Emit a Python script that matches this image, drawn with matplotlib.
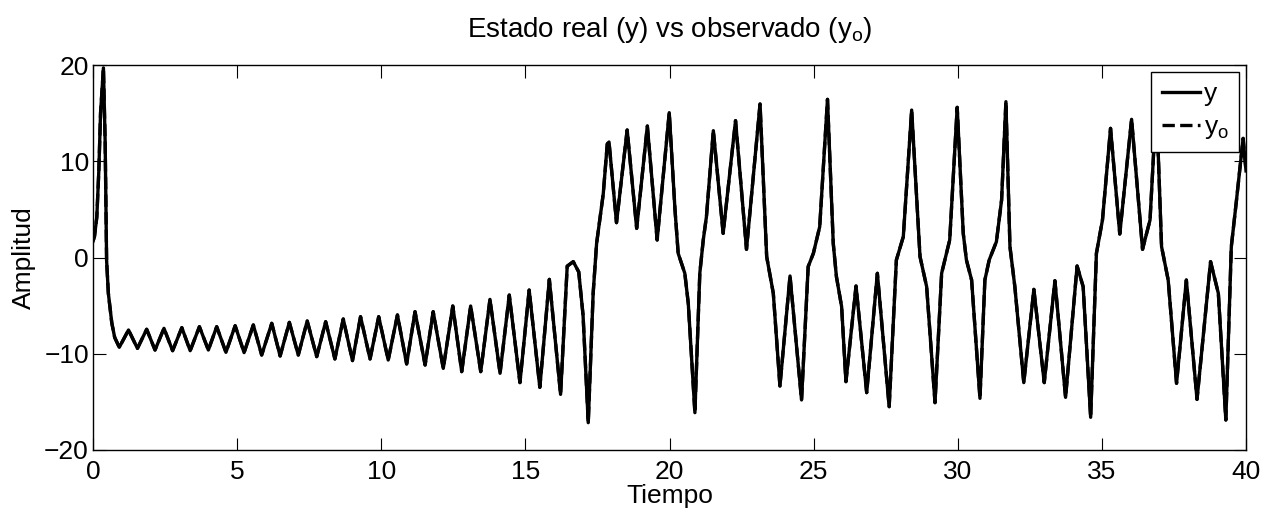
import numpy as np
import matplotlib.pyplot as plt

plt.rcParams["font.family"] = ["Liberation Sans", "DejaVu Sans"]

# puntos (tiempo, amplitud)
t_inicio = [0.0, 0.05, 0.13, 0.2, 0.26, 0.36, 0.42, 0.47, 0.53, 0.65, 0.75]
y_inicio = [1.7, 2.2, 4.2, 9.0, 15.0, 19.7, 12.0, -0.3, -3.7, -6.8, -8.3]

t_valles = [0.91, 1.54, 2.15, 2.76, 3.37, 4.0, 4.61, 5.24, 5.85, 6.49, 7.12,
            7.76, 8.39, 9.0, 9.61, 10.24, 10.88, 11.52, 12.15, 12.79, 13.45,
            14.12, 14.81, 15.5, 16.22]
y_valles = [-9.33, -9.44, -9.61, -9.68, -9.68, -9.61, -9.85, -9.88, -10.13,
            -10.23, -10.13, -10.3, -10.54, -10.71, -10.54, -10.65, -11.06,
            -11.17, -11.52, -11.86, -11.86, -12.03, -13.0, -13.49, -14.22]
t_picos = [1.23, 1.86, 2.46, 3.08, 3.69, 4.29, 4.93, 5.56, 6.2, 6.81, 7.43,
           8.07, 8.68, 9.28, 9.91, 10.56, 11.17, 11.8, 12.48, 13.1, 13.77,
           14.44, 15.13, 15.83]
y_picos = [-7.53, -7.46, -7.36, -7.29, -7.19, -7.19, -7.09, -7.01, -6.84,
           -6.74, -6.6, -6.67, -6.39, -6.15, -6.15, -5.97, -5.63, -5.63,
           -5.04, -5.04, -4.35, -3.9, -3.38, -2.27]

t_final = [16.45, 16.66, 16.85, 17.0, 17.18, 17.35, 17.47, 17.58, 17.7, 17.84,
           17.9, 18.16, 18.53, 18.86, 19.23, 19.57, 19.99, 20.19, 20.3, 20.53,
           20.65, 20.88, 21.05, 21.17, 21.28, 21.52, 21.86, 22.29, 22.67,
           23.14, 23.37, 23.6, 23.83, 24.18, 24.58, 24.81, 24.99, 25.21,
           25.48, 25.68, 25.79, 25.97, 26.12, 26.47, 26.84, 27.21, 27.62,
           27.87, 28.11, 28.4, 28.69, 28.92, 29.21, 29.44, 29.72, 29.98,
           30.19, 30.3, 30.48, 30.77, 30.94, 31.09, 31.34, 31.52, 31.67,
           31.81, 31.98, 32.29, 32.64, 33.0, 33.37, 33.74, 34.14, 34.35,
           34.61, 34.81, 35.02, 35.3, 35.62, 36.03, 36.41, 36.67, 36.89,
           37.07, 37.3, 37.59, 37.93, 38.3, 38.77, 39.04, 39.3, 39.49, 39.67,
           39.9, 40.0]
y_final = [-0.9, -0.43, -1.5, -6.0, -17.16, -3.72, 1.47, 3.9, 6.6, 11.8,
           12.0, 3.62, 13.25, 3.03, 13.66, 1.82, 15.05, 4.94, 0.43, -1.64,
           -4.76, -16.12, -1.64, 1.82, 4.24, 13.18, 2.51, 14.22, 0.85, 15.95,
           0.09, -3.72, -13.35, -1.92, -14.8, -0.95, 0.43, 3.2, 16.43, 1.47,
           -1.99, -5.1, -12.9, -2.96, -14.04, -1.64, -15.5, -0.26, 2.16,
           15.32, 0.09, -3.03, -15.08, -1.64, 1.82, 15.6, 2.51, -0.26, -2.34,
           -14.63, -2.34, -0.26, 1.64, 5.97, 16.19, 1.13, -3.03, -13.0, -3.31,
           -13.0, -2.41, -14.53, -0.88, -3.03, -16.6, 0.43, 3.9, 13.42, 2.44,
           14.36, 0.85, 3.9, 16.19, 1.13, -2.34, -13.07, -2.34, -14.74, -0.43,
           -3.72, -16.88, 1.13, 5.97, 12.38, 9.0]

# unir picos y valles alternados
t_osc = []
y_osc = []
for i in range(len(t_valles)):
    t_osc.append(t_valles[i])
    y_osc.append(y_valles[i])
    if i < len(t_picos):
        t_osc.append(t_picos[i])
        y_osc.append(y_picos[i])

t = np.array(t_inicio + t_osc + t_final)
y = np.array(y_inicio + y_osc + y_final)
y_o = y  # el observado coincide con el real

fig = plt.figure(figsize=(12.73, 5.12), dpi=100)
ax = fig.add_axes([0.0731, 0.1211, 0.9057, 0.7519])

ax.plot(t, y, color="k", lw=2.4, label="y")
ax.plot(t, y_o, color="k", lw=2.4, ls="--", label="y$_\\mathregular{o}$")

ax.set_xlim(0, 40)
ax.set_ylim(-20, 20)
ax.set_xticks([0, 5, 10, 15, 20, 25, 30, 35, 40])
ax.set_yticks([-20, -10, 0, 10, 20])
ax.tick_params(direction="in", length=9, width=0.8, top=True, right=True,
               labelsize=19, pad=3)
ax.tick_params(axis="x", pad=7)
for s in ax.spines.values():
    s.set_linewidth(1.0)

ax.set_title("Estado real (y) vs observado (y$_\\mathregular{o}$)",
             fontsize=20, pad=20)
ax.set_xlabel("Tiempo", fontsize=19, labelpad=0)
ax.set_ylabel("Amplitud", fontsize=19, labelpad=6)

leg = ax.legend(loc="upper right", fontsize=19, handlelength=1.45,
                handletextpad=0.15, borderpad=0.4, borderaxespad=0.25,
                labelspacing=0.35, fancybox=False, framealpha=1)
leg.get_frame().set_edgecolor("k")
leg.get_frame().set_linewidth(1.0)

plt.savefig("out.png", dpi=100)
